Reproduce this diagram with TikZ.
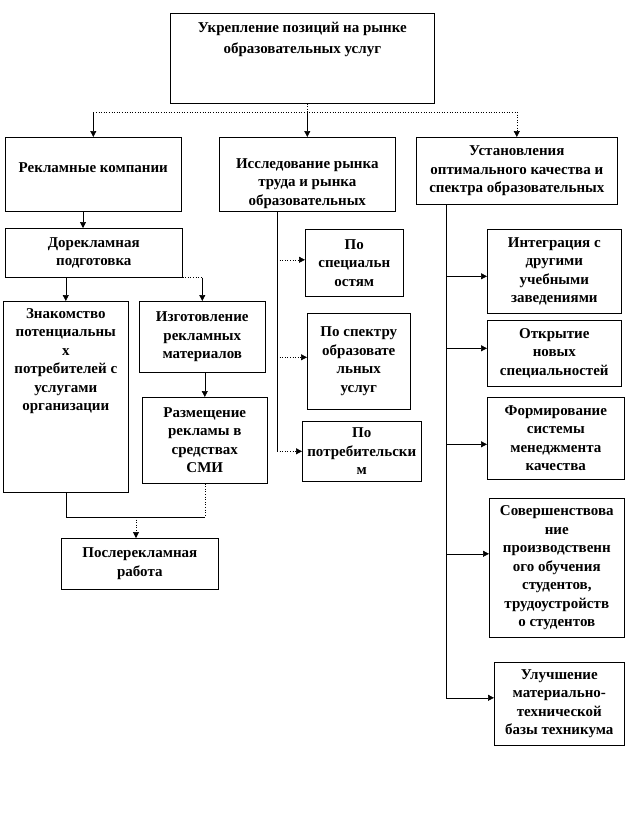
\documentclass[tikz,border=0pt]{standalone}
\usepackage{fontspec}
\setmainfont{Liberation Serif}
\usepackage{tikz}
\usetikzlibrary{arrows.meta}
\usetikzlibrary{calc}

\tikzset{
  blk/.style={draw, line width=0.6pt, fill=white, anchor=north west, inner sep=0pt, align=center,
    font=\bfseries\fontsize{15}{18.5}\selectfont},
  txt/.style={anchor=north, inner sep=0pt, align=center, font=\bfseries\fontsize{15}{18.5}\selectfont},
  arr/.style={-{Triangle[length=6pt,width=6pt]}},
  dots/.style={dotted, line width=0.6pt},
  ln/.style={line width=0.6pt}
}

\begin{document}
\begin{tikzpicture}[x=1pt, y=-1pt]
\useasboundingbox[fill=white] (0,0) rectangle (626,816);

% upper level
\node[blk, minimum width=264, minimum height=90] (top) at (170,13) {};
\node[txt] at ([yshift=-9pt]top.north) {Укрепление позиций на рынке\\[2.5pt] образовательных услуг};

\node[blk, minimum width=176, minimum height=74] (rek) at (5,137) {};
\node[txt] at ([yshift=-25pt]rek.north) {Рекламные компании};
\node[blk, minimum width=176, minimum height=74] (res) at (219,137) {};
\node[txt] at ([yshift=-21pt]res.north) {Исследование рынка\\ труда и рынка\\ образовательных};
\node[blk, minimum width=201, minimum height=67] (ust) at (416,137)
  {Установления\\ оптимального качества и\\ спектра образовательных};

\coordinate (hl) at (res.north |- 0,112);
\draw[dots] (top.south -| hl) -- (hl);
\draw[dots] (rek.north |- hl) -- (ust.north |- hl);
\draw[ln, arr] (rek.north |- hl) -- (rek.north);
\draw[ln, arr] (hl) -- (res.north);
\draw[dots, arr] (ust.north |- hl) -- (ust.north);

% advertising branch
\node[blk, minimum width=177, minimum height=49] (dor) at (5,228) {Дорекламная\\ подготовка};
\node[blk, minimum width=125, minimum height=191] (zn) at (3,301) {};
\node[txt] at ([yshift=-7pt]zn.north) {Знакомство\\ потенциальны\\ х\\ потребителей с\\ услугами\\ организации};
\node[blk, minimum width=126, minimum height=71] (izg) at (139,301) {Изготовление\\ рекламных\\ материалов};
\node[blk, minimum width=125, minimum height=86] (raz) at (142,397) {Размещение\\ рекламы в\\ средствах\\ СМИ};
\node[blk, minimum width=157, minimum height=51] (post) at (61,538) {Послерекламная\\ работа};

\draw[ln, arr] (rek.south -| 83,0) -- (dor.north -| 83,0);
\draw[ln, arr] (dor.south -| zn.north) -- (zn.north);
\draw[dots] (dor.south east) -- (dor.south east -| izg.north);
\draw[ln, arr] (dor.south east -| izg.north) -- (izg.north);
\draw[ln, arr] (izg.south -| raz.north) -- (raz.north);

\coordinate (jn) at (136,517);
\draw[ln] (zn.south) |- (raz.south |- jn);
\draw[dots] (raz.south) -- (raz.south |- jn);
\draw[dots, arr] (jn) -- (jn |- post.north);

% research branch
\node[blk, minimum width=98, minimum height=67] (ps1) at (305,229) {По\\ специальн\\ остям};
\node[blk, minimum width=103, minimum height=96] (ps2) at (307,313) {По спектру\\ образовате\\ льных\\ услуг};
\node[blk, minimum width=119, minimum height=60] (ps3) at (302,421) {По\\ потребительски\\ м};

\coordinate (rl) at (277,0);
\draw[ln] (res.south -| rl) -- (ps3.west -| rl);
\draw[dots, arr] ([yshift=3pt]ps1.west -| rl) -- ([yshift=3pt]ps1.west);
\draw[dots, arr] ([yshift=4pt]ps2.west -| rl) -- ([yshift=4pt]ps2.west);
\draw[dots, arr] (ps3.west -| rl) -- (ps3.west);

% quality branch
\node[blk, minimum width=134, minimum height=84] (int) at (487,229) {Интеграция с\\ другими\\ учебными\\ заведениями};
\node[blk, minimum width=134, minimum height=66] (otk) at (487,320) {Открытие\\ новых\\ специальностей};
\node[blk, minimum width=137, minimum height=82] (frm) at (487,397) {Формирование\\ системы\\ менеджмента\\ качества};
\node[blk, minimum width=135, minimum height=139] (sov) at (489,498)
  {Совершенствова\\ ние\\ производственн\\ ого обучения\\ студентов,\\ трудоустройств\\ о студентов};
\node[blk, minimum width=130, minimum height=83] (ulu) at (494,662) {Улучшение\\ материально-\\ технической\\ базы техникума};

\coordinate (rr) at (446,0);
\draw[ln] (ust.south -| rr) -- ([yshift=6pt]ulu.west -| rr);
\draw[ln, arr] ([yshift=-5pt]int.west -| rr) -- ([yshift=-5pt]int.west);
\draw[ln, arr] ([yshift=5pt]otk.west -| rr) -- ([yshift=5pt]otk.west);
\draw[ln, arr] ([yshift=-6pt]frm.west -| rr) -- ([yshift=-6pt]frm.west);
\draw[ln, arr] ([yshift=14pt]sov.west -| rr) -- ([yshift=14pt]sov.west);
\draw[ln, arr] ([yshift=6pt]ulu.west -| rr) -- ([yshift=6pt]ulu.west);
\end{tikzpicture}
\end{document}
